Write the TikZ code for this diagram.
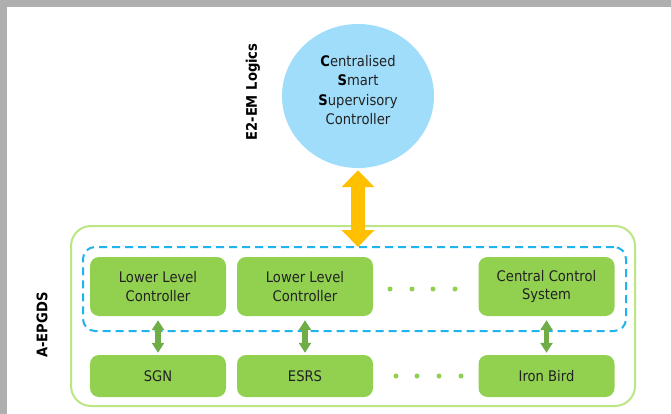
\documentclass[tikz,border=0pt]{standalone}
\usepackage{fontspec}
\setmainfont{DejaVu Sans}[FakeStretch=0.9]
\usetikzlibrary{arrows.meta,shapes.geometric}
\definecolor{pagegray}{HTML}{AFAFAF}
\definecolor{ellblue}{HTML}{9FDDFA}
\definecolor{boxgreen}{HTML}{92D050}
\definecolor{outgreen}{HTML}{BCE585}
\definecolor{dashblue}{HTML}{1FB4EE}
\definecolor{arrorange}{HTML}{FFC000}
\definecolor{arrgreen}{HTML}{70AD47}
\definecolor{txt}{HTML}{222222}
\tikzset{
  greenbox/.style={rounded corners=9pt, fill=boxgreen, draw=none, inner sep=0pt,
    minimum width=136pt, align=center, text=txt,
    font=\fontsize{14.6}{18.3}\selectfont},
  topbox/.style={greenbox, minimum height=59pt},
  botbox/.style={greenbox, minimum height=42pt},
  sidelabel/.style={rotate=90, font=\bfseries\fontsize{14.6}{18}\selectfont, text=black, inner sep=0pt},
  gdot/.style={circle, fill=boxgreen, inner sep=0pt, minimum size=5pt},
  biggarrow/.style={draw=arrorange, line width=14pt,
    {Triangle[width=32pt,length=17pt]}-{Triangle[width=32pt,length=17pt]}},
  smallarrow/.style={draw=arrgreen, line width=5.5pt,
    {Triangle[width=12pt,length=10pt]}-{Triangle[width=12pt,length=10pt]}},
}
\begin{document}
\begin{tikzpicture}[x=1pt,y=-1pt]
\useasboundingbox (0,0) rectangle (671,414);
\fill[pagegray] (0,0) rectangle (671,414);
\fill[white] (7,7) rectangle (671,414);

% outer group and dashed group
\node[draw=outgreen, line width=2pt, rounded corners=20pt, minimum width=564pt, minimum height=180pt, inner sep=0pt] (outer) at (353,316) {};
\node[draw=dashblue, line width=2pt, dash pattern=on 8pt off 5pt, rounded corners=12pt, minimum width=543pt, minimum height=84pt, inner sep=0pt] (grp) at (354.5,289) {};

% supervisory controller
\node[ellipse, fill=ellblue, draw=none, minimum width=152pt, minimum height=144pt, inner sep=0pt] (csc) at (358,96) {};
\node[align=center, text=txt, font=\fontsize{14.6}{19.4}\selectfont, inner sep=0pt] (csct) at (358,90)
  {{\color{black}\bfseries C}entralised\\{\color{black}\bfseries S}mart\\{\color{black}\bfseries S}upervisory\\Controller};

% side labels
\node[sidelabel] (lblE) at (253,92) {E2-EM Logics};
\node[sidelabel] (lblA) at (42,325) {A-EPGDS};

% boxes
\node[topbox] (b1) at (158,286.5) {Lower Level\\Controller};
\node[topbox] (b2) at (305,286.5) {Lower Level\\Controller};
\node[topbox] (b3) at (546.5,286.5) {Central Control\\System};
\node[botbox] (s1) at (158,376) {SGN};
\node[botbox] (s2) at (305,376) {ESRS};
\node[botbox] (s3) at (546.5,376) {Iron Bird};

% dots
\foreach \x [count=\i] in {390,412,433,455} \node[gdot] (ud\i) at (\x,289) {};
\foreach \x [count=\i] in {396,417,439,461} \node[gdot] (ld\i) at (\x,376) {};

% arrows
\draw[biggarrow, shorten <=2pt, shorten >=-1pt] (csc.south) -- (csc.south |- grp.north);
\draw[smallarrow, shorten <=4pt, shorten >=2pt] (b1.south) -- (s1.north);
\draw[smallarrow, shorten <=4pt, shorten >=2pt] (b2.south) -- (s2.north);
\draw[smallarrow, shorten <=4pt, shorten >=2pt] (b3.south) -- (s3.north);
\end{tikzpicture}
\end{document}
